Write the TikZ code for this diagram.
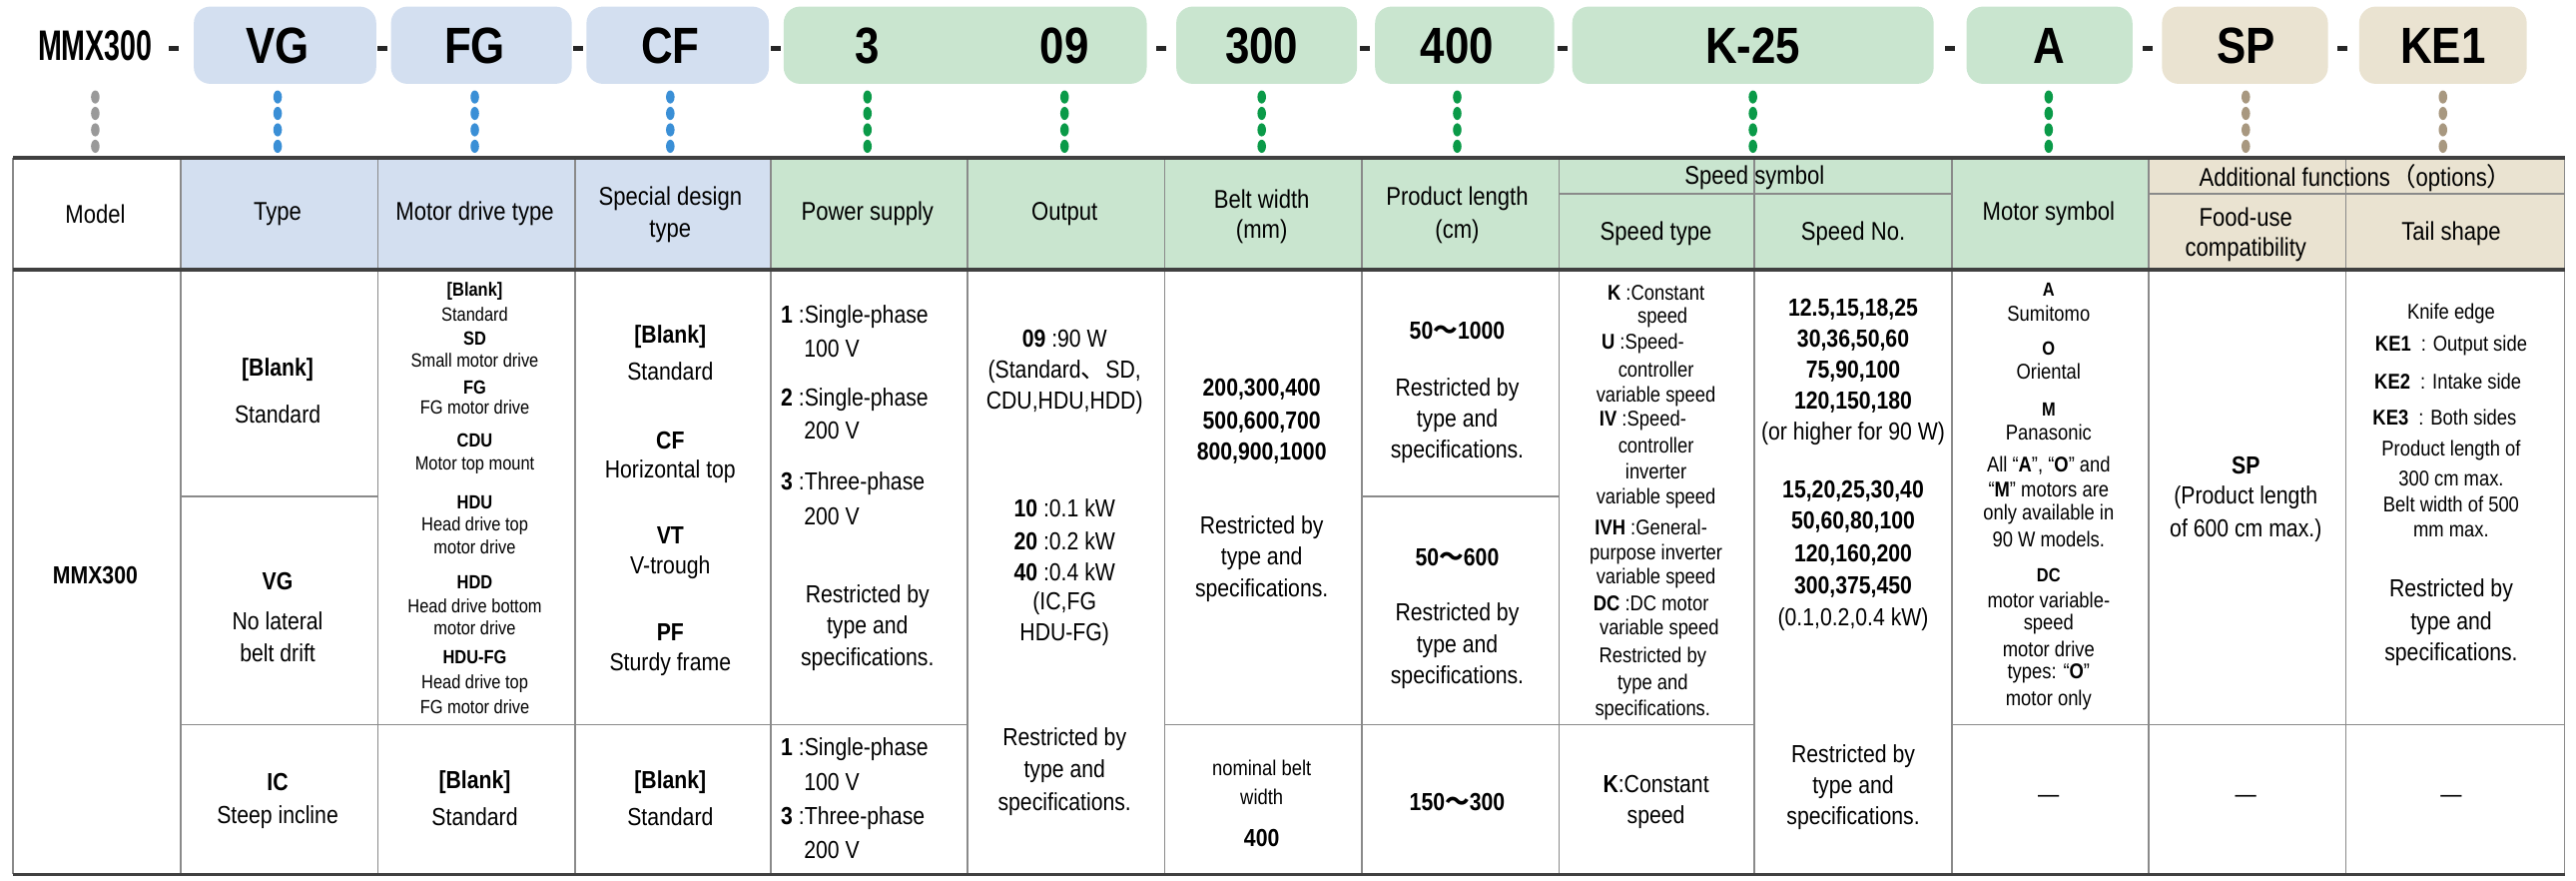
\documentclass[tikz,border=0pt]{standalone}
\usepackage{fontspec}
\setmainfont{Liberation Sans}[FakeStretch=0.86]
\newfontfamily\cjk{Noto Sans CJK JP}
\definecolor{cblue}{HTML}{D3DFF0}
\definecolor{cgreen}{HTML}{C9E5CF}
\definecolor{cbeige}{HTML}{EAE3D1}
\definecolor{dgray}{HTML}{999999}
\definecolor{dblue}{HTML}{3A8FD6}
\definecolor{dgreen}{HTML}{0A9A48}
\definecolor{dbeige}{HTML}{A89880}
\definecolor{gline}{HTML}{8A8A8A}
\newcommand\Lx[3]{\node[inner sep=0pt,font=\fontsize{7.5}{8}\selectfont] at (#1,#2) {#3};}
\newcommand\Bx[3]{\node[inner sep=0pt,font=\fontsize{7.5}{8}\selectfont\bfseries] at (#1,#2) {#3};}
\newcommand\Sx[3]{\node[inner sep=0pt,font=\fontsize{5.8}{6}\selectfont] at (#1,#2) {#3};}
\newcommand\SBx[3]{\node[inner sep=0pt,font=\fontsize{5.8}{6}\selectfont\bfseries] at (#1,#2) {#3};}
\newcommand\Tx[3]{\node[inner sep=0pt,font=\fontsize{6.5}{7}\selectfont] at (#1,#2) {#3};}
\newcommand\Hx[3]{\node[inner sep=0pt,font=\fontsize{7.8}{8}\selectfont] at (#1,#2) {#3};}
\newcommand\Wx[3]{\node[inner sep=0pt,anchor=west,font=\fontsize{7.5}{8}\selectfont] at (#1,#2) {#3};}
\newcommand\tl{{\cjk ～}}
\tikzset{codebox/.style={rounded corners=5pt},
 gridline/.style={draw=gline,line width=0.5pt},
 heavyline/.style={draw=black!75,line width=1.1pt}}
\newcommand\dotcol[2]{\foreach \yy in {59,69,79,89} \fill[#2] (#1,\yy) ellipse (2.6 and 4);}
\begin{document}
\begin{tikzpicture}[x=0.5pt,y=-0.5pt]
\useasboundingbox (0,0) rectangle (1568,536);
% top code boxes
\fill[cblue,codebox] (118,4) rectangle (229,51);
\fill[cblue,codebox] (238,4) rectangle (348,51);
\fill[cblue,codebox] (357,4) rectangle (468,51);
\fill[cgreen,codebox] (477,4) rectangle (698,51);
\fill[cgreen,codebox] (716,4) rectangle (826,51);
\fill[cgreen,codebox] (837,4) rectangle (946,51);
\fill[cgreen,codebox] (957,4) rectangle (1177,51);
\fill[cgreen,codebox] (1197,4) rectangle (1298,51);
\fill[cbeige,codebox] (1316,4) rectangle (1417,51);
\fill[cbeige,codebox] (1436,4) rectangle (1538,51);
\foreach \t/\x in {VG/169,FG/289,CF/408,3/528,09/648,300/768,400/887,K-25/1067,A/1247,SP/1367,KE1/1487}
  \node[font=\fontsize{15.5}{16}\selectfont\bfseries] at (\x,28) {\t};
\node[font=\fontsize{13}{14}\selectfont\bfseries,xscale=0.78] (mmx) at (58,28) {MMX300};
\foreach \x in {106,233,352,472,707,831,951,1187,1307,1426}
  \fill[black!85] (\x-3,28) rectangle (\x+3,31);
\dotcol{58}{dgray}
\foreach \x in {169,289,408} {\dotcol{\x}{dblue}}
\foreach \x in {528,648,768,887,1067,1247} {\dotcol{\x}{dgreen}}
\foreach \x in {1367,1487} {\dotcol{\x}{dbeige}}
% header fills
\fill[cblue] (110,96) rectangle (469,164);
\fill[cgreen] (469,96) rectangle (1308,164);
\fill[cbeige] (1308,96) rectangle (1561,164);
% grid lines
\foreach \x in {110,230,350,469,589,709,829,949,1068,1188,1308,1428}
  \draw[gridline] (\x,96) -- (\x,532);
\draw[gridline] (949,118) -- (1188,118);
\draw[gridline] (1308,118) -- (1561,118);
\draw[gridline] (110,302) -- (230,302);
\draw[gridline] (829,302) -- (949,302);
\draw[gridline] (110,441) -- (589,441);
\draw[gridline] (709,441) -- (1068,441);
\draw[gridline] (1188,441) -- (1561,441);
\draw[gridline] (8,96) -- (8,532);
\draw[gridline] (1561,96) -- (1561,532);
\draw[heavyline] (8,96) -- (1561,96);
\draw[heavyline] (8,164) -- (1561,164);
\draw[heavyline] (8,532) -- (1561,532);
% headers
\Hx{58}{130}{Model}
\Hx{169}{130}{Type}
\Hx{289}{130}{Motor drive type}
\Hx{408}{121}{Special design}\Hx{408}{141}{type}
\Hx{528}{130}{Power supply}
\Hx{648}{130}{Output}
\Hx{768}{121}{Belt width}\Hx{768}{141}{(mm)}
\Hx{887}{121}{Product length}\Hx{887}{141}{(cm)}
\Hx{1068}{108}{Speed symbol}
\Hx{1008}{142}{Speed type}
\Hx{1128}{142}{Speed No.}
\Hx{1247}{130}{Motor symbol}
\Hx{1434}{108}{Additional functions{\cjk （}options{\cjk ）}}
\Hx{1367}{132}{Food-use}\Hx{1367}{152}{compatibility}
\Hx{1492}{142}{Tail shape}
% Model
\Bx{58}{350}{MMX300}
% Type
\Bx{169}{225}{[Blank]}\Lx{169}{252}{Standard}
\Bx{169}{354}{VG}\Lx{169}{378}{No lateral}\Lx{169}{397}{belt drift}
\Bx{169}{476}{IC}\Lx{169}{497}{Steep incline}
% Motor drive type
\SBx{289}{177}{[Blank]}\Sx{289}{191}{Standard}
\SBx{289}{206}{SD}\Sx{289}{219}{Small motor drive}
\SBx{289}{236}{FG}\Sx{289}{248}{FG motor drive}
\SBx{289}{268}{CDU}\Sx{289}{283}{Motor top mount}
\SBx{289}{306}{HDU}\Sx{289}{320}{Head drive top}\Sx{289}{333}{motor drive}
\SBx{289}{354}{HDD}\Sx{289}{369}{Head drive bottom}\Sx{289}{382}{motor drive}
\SBx{289}{400}{HDU-FG}\Sx{289}{416}{Head drive top}\Sx{289}{430}{FG motor drive}
\Bx{289}{476}{[Blank]}\Lx{289}{497}{Standard}
% Special design
\Bx{408}{205}{[Blank]}\Lx{408}{226}{Standard}
\Bx{408}{268}{CF}\Lx{408}{287}{Horizontal top}
\Bx{408}{326}{VT}\Lx{408}{345}{V-trough}
\Bx{408}{385}{PF}\Lx{408}{404}{Sturdy frame}
\Bx{408}{476}{[Blank]}\Lx{408}{497}{Standard}
% Power supply
\Wx{475}{193}{\textbf{1} :Single-phase}\Wx{489}{212}{100 V}
\Wx{475}{243}{\textbf{2} :Single-phase}\Wx{489}{262}{200 V}
\Wx{475}{294}{\textbf{3} :Three-phase}\Wx{489}{314}{200 V}
\Lx{528}{363}{Restricted by}\Lx{528}{382}{type and}\Lx{528}{401}{specifications.}
\Wx{475}{456}{\textbf{1} :Single-phase}\Wx{489}{476}{100 V}
\Wx{475}{498}{\textbf{3} :Three-phase}\Wx{489}{517}{200 V}
% Output
\Lx{648}{206}{\textbf{09} :90 W}\Lx{648}{226}{(Standard{\cjk 、}SD,}\Lx{648}{245}{CDU,HDU,HDD)}
\Lx{648}{309}{\textbf{10} :0.1 kW}\Lx{648}{329}{\textbf{20} :0.2 kW}\Lx{648}{348}{\textbf{40} :0.4 kW}
\Lx{648}{367}{(IC,FG}\Lx{648}{386}{HDU-FG)}
\Lx{648}{450}{Restricted by}\Lx{648}{469}{type and}\Lx{648}{489}{specifications.}
% Belt width
\Bx{768}{237}{200,300,400}\Bx{768}{257}{500,600,700}\Bx{768}{276}{800,900,1000}
\Lx{768}{321}{Restricted by}\Lx{768}{340}{type and}\Lx{768}{359}{specifications.}
\Tx{768}{467}{nominal belt}\Tx{768}{485}{width}\Bx{768}{510}{400}
% Product length
\Bx{887}{201}{50\tl 1000}
\Lx{887}{237}{Restricted by}\Lx{887}{256}{type and}\Lx{887}{275}{specifications.}
\Bx{887}{339}{50\tl 600}
\Lx{887}{374}{Restricted by}\Lx{887}{393}{type and}\Lx{887}{412}{specifications.}
\Bx{887}{488}{150\tl 300}
% Speed type
\Tx{1008}{178}{\textbf{K} :Constant}\Tx{1012}{193}{speed}
\Tx{1000}{209}{\textbf{U} :Speed-}\Tx{1008}{225}{controller}\Tx{1008}{241}{variable speed}
\Tx{1000}{256}{\textbf{IV} :Speed-}\Tx{1008}{271}{controller}\Tx{1008}{287}{inverter}\Tx{1008}{303}{variable speed}
\Tx{1005}{321}{\textbf{IVH} :General-}\Tx{1008}{337}{purpose inverter}\Tx{1008}{352}{variable speed}
\Tx{1005}{367}{\textbf{DC} :DC motor}\Tx{1010}{383}{variable speed}
\Tx{1006}{400}{Restricted by}\Tx{1006}{416}{type and}\Tx{1006}{432}{specifications.}
\Lx{1008}{477}{\textbf{K}:Constant}\Lx{1008}{497}{speed}
% Speed No
\Bx{1128}{188}{12.5,15,18,25}\Bx{1128}{207}{30,36,50,60}\Bx{1128}{226}{75,90,100}\Bx{1128}{245}{120,150,180}
\Lx{1128}{264}{(or higher for 90 W)}
\Bx{1128}{299}{15,20,25,30,40}\Bx{1128}{318}{50,60,80,100}\Bx{1128}{338}{120,160,200}\Bx{1128}{357}{300,375,450}
\Lx{1128}{377}{(0.1,0.2,0.4 kW)}
\Lx{1128}{460}{Restricted by}\Lx{1128}{479}{type and}\Lx{1128}{498}{specifications.}
% Motor symbol
\SBx{1247}{176}{A}\Tx{1247}{191}{Sumitomo}
\SBx{1247}{212}{O}\Tx{1247}{226}{Oriental}
\SBx{1247}{249}{M}\Tx{1247}{263}{Panasonic}
\Tx{1247}{283}{All “\textbf{A}”, “\textbf{O}” and}\Tx{1247}{298}{“\textbf{M}” motors are}
\Tx{1247}{313}{only available in}\Tx{1247}{328}{90 W models.}
\SBx{1247}{350}{DC}\Tx{1247}{365}{motor variable-}\Tx{1247}{380}{speed}
\Tx{1247}{395}{motor drive}\Tx{1247}{410}{types: “\textbf{O}”}\Tx{1247}{426}{motor only}
\Lx{1247}{486}{—}
% Food-use
\Bx{1367}{283}{SP}\Lx{1367}{303}{(Product length}\Lx{1367}{323}{of 600 cm max.)}
\Lx{1367}{486}{—}
% Tail shape
\Tx{1492}{191}{Knife edge}
\Tx{1492}{210}{\textbf{KE1}\ \ : Output side}
\Tx{1490}{232}{\textbf{KE2}\ \ : Intake side}
\Tx{1488}{254}{\textbf{KE3}\ \ : Both sides}
\Tx{1492}{274}{Product length of}\Tx{1492}{291}{300 cm max.}
\Tx{1492}{307}{Belt width of 500}\Tx{1492}{323}{mm max.}
\Lx{1492}{359}{Restricted by}\Lx{1492}{379}{type and}\Lx{1492}{398}{specifications.}
\Lx{1492}{486}{—}
\end{tikzpicture}
\end{document}
